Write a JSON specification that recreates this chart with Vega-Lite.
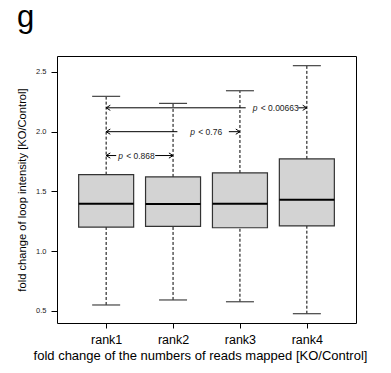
{
  "$schema": "https://vega.github.io/schema/vega-lite/v6.json",
  "width": 299,
  "height": 267,
  "autosize": {"type": "none"},
  "padding": {"left": 57, "top": 56, "right": 35, "bottom": 50},
  "config": {
    "font": "Liberation Sans",
    "view": {"stroke": "black", "strokeWidth": 1},
    "axis": {"grid": false, "domain": false, "tickColor": "black", "labelColor": "#222", "titleColor": "black", "titleFontWeight": "normal"}
  },
  "title": {"text": "g", "fontSize": 31, "fontWeight": "normal", "anchor": "start", "frame": "group", "dx": -40, "offset": -2, "baseline": "alphabetic", "color": "black"},
  "datasets": {
    "boxes": [
      {"rank": 1, "lo": 0.548, "q1": 1.201, "med": 1.397, "q3": 1.64, "hi": 2.296},
      {"rank": 2, "lo": 0.59, "q1": 1.206, "med": 1.394, "q3": 1.621, "hi": 2.237},
      {"rank": 3, "lo": 0.575, "q1": 1.195, "med": 1.397, "q3": 1.654, "hi": 2.343},
      {"rank": 4, "lo": 0.475, "q1": 1.21, "med": 1.43, "q3": 1.772, "hi": 2.553}
    ],
    "segs": [
      {"y": 2.2, "from": 1, "to": 3.086},
      {"y": 2.2, "from": 3.87, "to": 4},
      {"y": 2.0, "from": 1, "to": 2.065},
      {"y": 2.0, "from": 2.834, "to": 3},
      {"y": 1.8, "from": 1, "to": 1.15},
      {"y": 1.8, "from": 1.733, "to": 2}
    ],
    "heads": [
      {"y": 2.2, "x": 1, "dir": "left"},
      {"y": 2.2, "x": 4, "dir": "right"},
      {"y": 2.0, "x": 1, "dir": "left"},
      {"y": 2.0, "x": 3, "dir": "right"},
      {"y": 1.8, "x": 1, "dir": "left"},
      {"y": 1.8, "x": 2, "dir": "right"}
    ],
    "labels": [
      {"y": 2.2, "x": 3.191, "p": "p", "label": "< 0.00663"},
      {"y": 2.0, "x": 2.257, "p": "p", "label": "< 0.76"},
      {"y": 1.8, "x": 1.179, "p": "p", "label": "< 0.868"}
    ]
  },
  "encoding": {
    "x": {"field": "rank", "type": "quantitative",
      "scale": {"domain": [0.34, 4.66], "nice": false, "zero": false},
      "axis": {"values": [1, 2, 3, 4], "labelExpr": "'rank' + datum.value", "title": "fold change of the numbers of reads mapped [KO/Control]",
        "tickSize": 5, "labelFontSize": 12.5, "labelPadding": 5, "titleFontSize": 13, "titlePadding": 4, "titleX": 143, "labelColor": "black"}}
  },
  "layer": [
    {"data": {"name": "boxes"}, "mark": {"type": "rule", "strokeDash": [3, 2], "color": "black", "strokeWidth": 1},
      "encoding": {"y": {"field": "q3", "type": "quantitative",
        "scale": {"domain": [0.397, 2.634], "nice": false, "zero": false},
        "axis": {"values": [0.5, 1, 1.5, 2, 2.5], "format": ".1f", "title": "fold change of loop intensity [KO/Control]",
          "tickSize": 6, "labelFontSize": 7.5, "labelPadding": 5, "titleFontSize": 11.2, "titlePadding": 8}},
        "y2": {"field": "hi"}}},
    {"data": {"name": "boxes"}, "mark": {"type": "rule", "strokeDash": [3, 2], "color": "black", "strokeWidth": 1},
      "encoding": {"y": {"field": "lo", "type": "quantitative"}, "y2": {"field": "q1"}}},
    {"data": {"name": "boxes"}, "mark": {"type": "tick", "orient": "horizontal", "size": 28, "thickness": 1.2, "color": "#444", "opacity": 1},
      "encoding": {"y": {"field": "hi", "type": "quantitative"}}},
    {"data": {"name": "boxes"}, "mark": {"type": "tick", "orient": "horizontal", "size": 28, "thickness": 1.2, "color": "#444", "opacity": 1},
      "encoding": {"y": {"field": "lo", "type": "quantitative"}}},
    {"data": {"name": "boxes"}, "mark": {"type": "bar", "size": 55, "fill": "#d3d3d3", "stroke": "#333", "strokeWidth": 1.2},
      "encoding": {"y": {"field": "q1", "type": "quantitative"}, "y2": {"field": "q3"}}},
    {"data": {"name": "boxes"}, "mark": {"type": "tick", "orient": "horizontal", "size": 55, "thickness": 2, "color": "black", "opacity": 1},
      "encoding": {"y": {"field": "med", "type": "quantitative"}}},
    {"data": {"name": "segs"}, "mark": {"type": "rule", "color": "black", "strokeWidth": 1},
      "encoding": {"x": {"field": "from", "type": "quantitative"}, "x2": {"field": "to"}, "y": {"field": "y", "type": "quantitative"}}},
    {"data": {"name": "heads"}, "mark": {"type": "point", "filled": false, "stroke": "black", "strokeWidth": 1, "size": 27, "opacity": 1},
      "encoding": {"x": {"field": "x", "type": "quantitative"}, "y": {"field": "y", "type": "quantitative"},
        "shape": {"field": "dir", "type": "nominal", "scale": {"domain": ["left", "right"], "range": ["M1.6,-1L0,0L1.6,1", "M-1.6,-1L0,0L-1.6,1"]}, "legend": null}}},
    {"data": {"name": "labels"}, "mark": {"type": "text", "align": "left", "baseline": "middle", "fontSize": 8.5, "fontStyle": "italic", "color": "#222"},
      "encoding": {"x": {"field": "x", "type": "quantitative"}, "y": {"field": "y", "type": "quantitative"}, "text": {"field": "p"}}},
    {"data": {"name": "labels"}, "mark": {"type": "text", "align": "left", "baseline": "middle", "fontSize": 8.5, "dx": 8, "color": "#222"},
      "encoding": {"x": {"field": "x", "type": "quantitative"}, "y": {"field": "y", "type": "quantitative"}, "text": {"field": "label"}}}
  ]
}
